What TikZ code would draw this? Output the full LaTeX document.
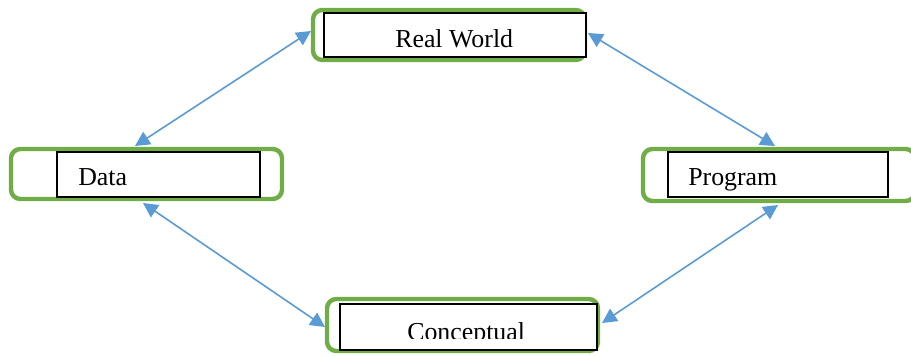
\documentclass[tikz,border=0pt]{standalone}
\usepackage{fontspec}
\setmainfont{Liberation Serif}
\usetikzlibrary{arrows.meta}
\definecolor{gframe}{HTML}{70AD47}
\definecolor{barrow}{HTML}{5B9BD5}
\tikzset{
  gbox/.style={draw=gframe, line width=3.3pt, rounded corners=7pt, fill=white, inner sep=0pt},
  ibox/.style={draw=black, line width=0.8pt, fill=white, inner sep=0pt},
  lbl/.style={anchor=base west, inner sep=0pt, font=\fontsize{19.4}{23}\selectfont},
  link/.style={draw=barrow, line width=1.2pt, {Triangle[length=11pt,width=11pt]}-{Triangle[length=11pt,width=11pt]}}
}
\begin{document}
\begin{tikzpicture}[x=0.75pt,y=-0.75pt]
\useasboundingbox (0,0) rectangle (911,355);
% Real World
\node[gbox, minimum width=204pt, minimum height=37.5pt] (rwg) at (449,35) {};
\node[ibox, minimum width=196.5pt, minimum height=33pt] (rwi) at (455,35) {};
\node[lbl] (rwt) at (395,47) {Real World};
% Data
\node[gbox, minimum width=203.25pt, minimum height=37.5pt] (dg) at (146.5,174) {};
\node[ibox, minimum width=152.25pt, minimum height=33.75pt] (di) at (158.5,174.5) {};
\node[lbl] (dt) at (78,185) {Data};
% Program
\node[gbox, minimum width=204pt, minimum height=39pt] (pg) at (779,175) {};
\node[ibox, minimum width=165pt, minimum height=33.75pt] (pi) at (778,174.5) {};
\node[lbl] (pt) at (688,185) {Program};
% Conceptual
\node[gbox, minimum width=203.25pt, minimum height=39pt] (cg) at (462.5,325) {};
\node[ibox, minimum width=192.75pt, minimum height=34.5pt] (ci) at (468.5,327) {};
\begin{scope}
\clip (0,0) rectangle (911,338);
\node[lbl] (ct) at (407,340) {Conceptual};
\end{scope}
% connector end points
\coordinate (a1) at (135,146);
\coordinate (a2) at (311,31);
\coordinate (b1) at (588,33);
\coordinate (b2) at (775,146);
\coordinate (c1) at (143,203);
\coordinate (c2) at (325,327);
\coordinate (d1) at (602,323);
\coordinate (d2) at (778,205);
\draw[link] (a1) -- (a2);
\draw[link] (b1) -- (b2);
\draw[link] (c1) -- (c2);
\draw[link] (d1) -- (d2);
\end{tikzpicture}
\end{document}
